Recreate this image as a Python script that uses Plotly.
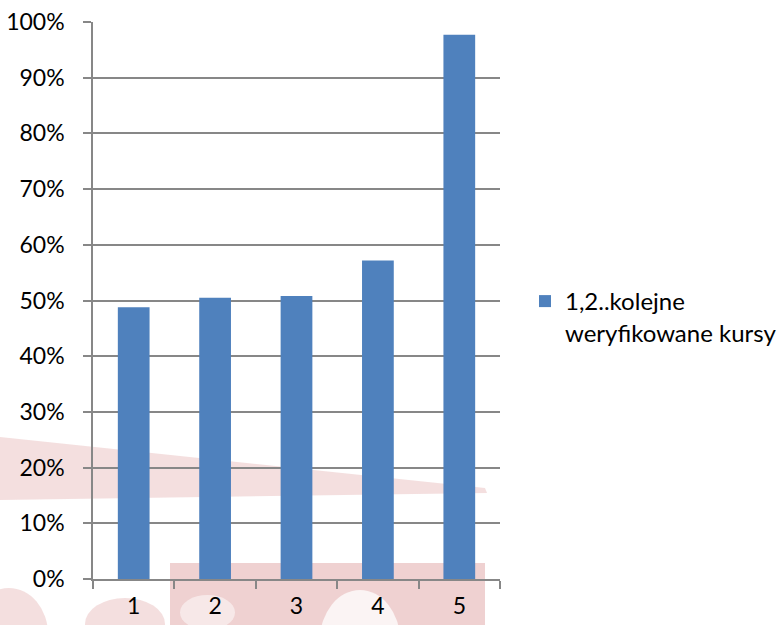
import plotly.graph_objects as go

categories = ["1", "2", "3", "4", "5"]
values = [0.488, 0.505, 0.508, 0.572, 0.977]
series_name = "1,2..kolejne<br>weryfikowane kursy"
y_tickvals = [0, 0.1, 0.2, 0.3, 0.4, 0.5, 0.6, 0.7, 0.8, 0.9, 1.0]
y_ticktext = ["0%", "10%", "20%", "30%", "40%", "50%", "60%", "70%", "80%", "90%", "100%"]

W, H = 782, 625
L, R, T, B = 93, 282, 22, 46
pw, ph = W - L - R, H - T - B

def px(x):
    return (x - L) / pw

def py(y):
    return (H - B - y) / ph

grey = "#878787"
font = dict(family="Lato, 'Open Sans', sans-serif", size=23, color="#000000")
legend_font = dict(family="Lato, 'Open Sans', sans-serif", size=24, color="#000000")

fig = go.Figure()
fig.add_trace(go.Bar(
    x=categories, y=values, name=series_name,
    marker=dict(color="#4F81BD", line=dict(width=0)),
    showlegend=True,
))

# faint background watermark (decorative)
wm = "rgba(214,140,140,0.40)"
wm2 = "rgba(214,140,140,0.28)"
def ell(x0, y0, x1, y1, c):
    return dict(type="circle", xref="paper", yref="paper", layer="below",
                x0=px(x0), x1=px(x1), y0=py(y1), y1=py(y0),
                fillcolor=c, line=dict(width=0))
shapes = [
    dict(type="path", xref="paper", yref="paper", layer="below",
         path=f"M {px(0)} {py(437)} L {px(485)} {py(488)} L {px(487)} {py(493)} L {px(0)} {py(500)} Z",
         fillcolor=wm2, line=dict(width=0)),
    dict(type="rect", xref="paper", yref="paper", layer="below",
         x0=px(170), x1=px(485), y0=py(563), y1=py(625),
         fillcolor=wm, line=dict(width=0)),
    ell(-30, 588, 48, 680, wm2),
    ell(85, 598, 165, 650, wm2),
    ell(320, 590, 400, 690, "rgba(255,255,255,0.75)"),
    ell(180, 595, 235, 630, "rgba(255,255,255,0.5)"),
]

fig.update_layout(
    width=W, height=H,
    margin=dict(l=L, r=R, t=T, b=B, autoexpand=False),
    paper_bgcolor="white", plot_bgcolor="rgba(0,0,0,0)",
    font=font,
    bargap=0.61,
    shapes=shapes,
    legend=dict(x=px(525), y=py(279), xanchor="left", yanchor="top",
                font=legend_font, valign="top", itemwidth=30,
                bgcolor="rgba(0,0,0,0)"),
    xaxis=dict(type="category", range=[-0.5, 4.5], showgrid=False, automargin=False,
               showline=True, linecolor=grey, linewidth=1.5,
               ticks="outside", tickson="boundaries", ticklen=8, tickcolor=grey, tickwidth=1.5,
               tickfont=font, ticklabelstandoff=6),
    yaxis=dict(range=[0, 1], tickvals=y_tickvals, ticktext=y_ticktext, automargin=False,
               showgrid=True, gridcolor=grey, gridwidth=1.5,
               showline=True, linecolor=grey, linewidth=1.5,
               ticks="outside", ticklen=8, tickcolor=grey, tickwidth=1.5,
               tickfont=font, zeroline=False, ticklabelstandoff=14),
)

fig.write_html("out.html", config={"displayModeBar": False},
               post_script="document.body.style.margin='0';document.body.style.overflow='hidden';")
